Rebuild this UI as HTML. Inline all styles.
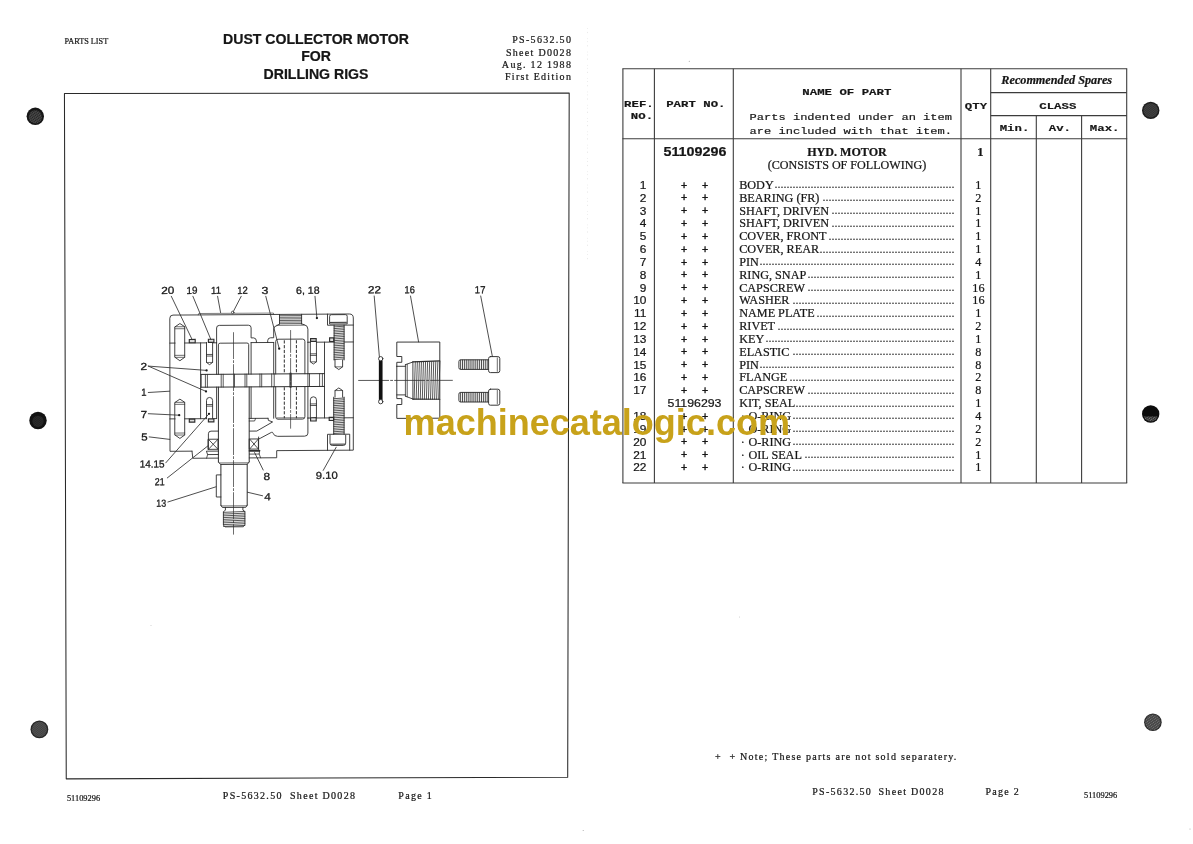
<!DOCTYPE html>
<html lang="en">
<head>
<meta charset="utf-8">
<title>Dust Collector Motor for Drilling Rigs - Parts List PS-5632.50</title>
<style>
html,body{margin:0;padding:0;background:#fff;}
body{width:1193px;height:844px;overflow:hidden;font-family:'Liberation Serif',serif;}
svg{display:block;position:absolute;left:0;top:0;}
text{white-space:pre;}
.ink text{stroke:#161616;stroke-width:.22px;stroke-linejoin:round;}
.ink text.lab{stroke-width:.3px;}
.ink text.ld{stroke:#2a2a2a;stroke-width:.2px;}
</style>
</head>
<body>
<svg width="1193" height="844" viewBox="0 0 1193 844" role="img" aria-label="Parts list PS-5632.50, sheet D0028: dust collector motor for drilling rigs">
<rect width="100%" height="100%" fill="#fff"/>
<defs><filter id="scan" x="0" y="0" width="100%" height="100%" filterUnits="userSpaceOnUse" color-interpolation-filters="sRGB"><feGaussianBlur stdDeviation="0.25"/></filter></defs>
<g filter="url(#scan)" class="ink">
<defs><pattern id="ht" width="1.9" height="1.5" patternUnits="userSpaceOnUse" patternTransform="rotate(24)"><rect x="0.2" y="0.25" width="1.15" height="0.7" fill="#fff"/></pattern><pattern id="ht2" width="1.6" height="1.6" patternUnits="userSpaceOnUse" patternTransform="rotate(-38)"><circle cx="0.8" cy="0.8" r="0.5" fill="#fff"/></pattern></defs>
<circle cx="35.3" cy="116.3" r="8.7" fill="#161616"/>
<circle cx="35.3" cy="116.89999999999999" r="6.6" fill="url(#ht)" opacity="0.55"/>
<circle cx="38.0" cy="420.5" r="8.7" fill="#121212"/>
<circle cx="38.0" cy="421.3" r="5.6" fill="url(#ht2)" opacity="0.32"/>
<circle cx="39.4" cy="729.4" r="8.9" fill="#262626"/>
<circle cx="39.4" cy="729.4" r="7.6" fill="url(#ht2)" opacity="0.62"/>
<circle cx="1150.7" cy="110.4" r="8.7" fill="#1c1c1c"/>
<circle cx="1150.7" cy="110.4" r="7.2" fill="url(#ht2)" opacity="0.5"/>
<circle cx="1150.7" cy="414.0" r="8.7" fill="#0c0c0c"/>
<circle cx="1152.9" cy="722.3" r="8.8" fill="#2a2a2a"/>
<circle cx="1152.9" cy="722.3" r="7.7" fill="url(#ht)" opacity="0.68"/>
<clipPath id="h5"><rect x="1141" y="416.6" width="20" height="8"/></clipPath>
<circle cx="1150.7" cy="414.0" r="7.4" fill="url(#ht)" opacity="0.9" clip-path="url(#h5)"/>
<circle cx="689.3" cy="61.2" r="0.55" fill="#9a9a9a"/>
<circle cx="583.2" cy="830.4" r="0.5" fill="#9a9a9a"/>
<circle cx="1190.0" cy="829.0" r="0.5" fill="#9a9a9a"/>
<circle cx="151.0" cy="625.5" r="0.4" fill="#9a9a9a"/>
<circle cx="739.5" cy="617.0" r="0.4" fill="#9a9a9a"/>
<line x1="587.4" y1="28" x2="587.6" y2="262" stroke="#c8c8c8" stroke-width="0.6" stroke-dasharray="0.8 3.1 1.2 5.3 0.7 2.2" opacity="0.7"/>
<text font-family="'Liberation Serif', serif" font-size="8.6" fill="#161616" transform="translate(64.40 43.90) scale(0.96 1.0)" xml:space="preserve">PARTS LIST</text>
<text font-family="'Liberation Sans', sans-serif" font-size="14.1" font-weight="bold" text-anchor="middle" fill="#161616" x="316.00" y="44.40" xml:space="preserve">DUST COLLECTOR MOTOR</text>
<text font-family="'Liberation Sans', sans-serif" font-size="14.1" font-weight="bold" text-anchor="middle" fill="#161616" x="316.00" y="61.00" xml:space="preserve">FOR</text>
<text font-family="'Liberation Sans', sans-serif" font-size="14.1" font-weight="bold" text-anchor="middle" fill="#161616" x="316.00" y="79.10" xml:space="preserve">DRILLING RIGS</text>
<text font-family="'Liberation Serif', serif" font-size="10" text-anchor="end" letter-spacing="1.3" fill="#161616" x="572.20" y="43.40" xml:space="preserve">PS-5632.50</text>
<text font-family="'Liberation Serif', serif" font-size="10" text-anchor="end" letter-spacing="1.3" fill="#161616" x="572.20" y="55.70" xml:space="preserve">Sheet D0028</text>
<text font-family="'Liberation Serif', serif" font-size="10" text-anchor="end" letter-spacing="1.3" fill="#161616" x="572.20" y="68.00" xml:space="preserve">Aug. 12 1988</text>
<text font-family="'Liberation Serif', serif" font-size="10" text-anchor="end" letter-spacing="1.3" fill="#161616" x="572.20" y="80.30" xml:space="preserve">First Edition</text>
<polygon points="64.45,93.5 569.2,92.9 567.7,777.3 66.25,778.85" fill="none" stroke="#2a2a2a" stroke-width="1.05" stroke-linejoin="round"/>
<text font-family="'Liberation Serif', serif" font-size="8.4" fill="#161616" x="66.90" y="800.70" xml:space="preserve">51109296</text>
<text font-family="'Liberation Serif', serif" font-size="10" letter-spacing="1.3" fill="#161616" x="222.80" y="798.60" xml:space="preserve">PS-5632.50</text>
<text font-family="'Liberation Serif', serif" font-size="10" letter-spacing="1.3" fill="#161616" x="290.00" y="798.60" xml:space="preserve">Sheet D0028</text>
<text font-family="'Liberation Serif', serif" font-size="10" letter-spacing="1.3" fill="#161616" x="398.30" y="798.60" xml:space="preserve">Page 1</text>
<g id="drawing" stroke-linecap="round" stroke-linejoin="round">
<path d="M192.00,451.16 L170.00,451.30 L169.80,318.30 Q169.80,315.10 173.00,315.08 L349.30,313.99 Q353.30,313.96 353.30,317.96 L353.30,450.16 L276.70,450.64 L276.70,457.74 L249.30,457.91" fill="none" stroke="#2e2e2e" stroke-width="0.9" />
<path d="M192.00,451.16 L192.80,458.26 L218.40,458.10" fill="none" stroke="#2e2e2e" stroke-width="0.9" />
<path d="M198.30,314.92 L198.70,313.52 L273.40,313.06 L273.80,314.46" fill="none" stroke="#2e2e2e" stroke-width="0.6" />
<circle cx="232.7" cy="312.41" r="1.25" fill="#fff" stroke="#2e2e2e" stroke-width="0.8"/>
<line x1="169.80" y1="343.10" x2="175.10" y2="343.07" stroke="#2e2e2e" stroke-width="0.9" />
<line x1="184.70" y1="343.01" x2="206.50" y2="342.87" stroke="#2e2e2e" stroke-width="0.9" />
<line x1="212.60" y1="342.84" x2="216.60" y2="342.81" stroke="#2e2e2e" stroke-width="0.9" />
<line x1="307.90" y1="342.25" x2="310.40" y2="342.23" stroke="#2e2e2e" stroke-width="0.9" />
<line x1="316.40" y1="342.19" x2="334.00" y2="342.08" stroke="#2e2e2e" stroke-width="0.9" />
<line x1="344.20" y1="342.02" x2="353.30" y2="341.96" stroke="#2e2e2e" stroke-width="0.9" />
<line x1="169.80" y1="418.90" x2="175.10" y2="418.87" stroke="#2e2e2e" stroke-width="0.9" />
<line x1="184.70" y1="418.81" x2="206.50" y2="418.67" stroke="#2e2e2e" stroke-width="0.9" />
<line x1="212.60" y1="418.64" x2="216.60" y2="418.61" stroke="#2e2e2e" stroke-width="0.9" />
<line x1="307.90" y1="418.05" x2="310.40" y2="418.03" stroke="#2e2e2e" stroke-width="0.9" />
<line x1="316.40" y1="417.99" x2="334.00" y2="417.88" stroke="#2e2e2e" stroke-width="0.9" />
<line x1="344.20" y1="417.82" x2="353.30" y2="417.76" stroke="#2e2e2e" stroke-width="0.9" />
<line x1="251.10" y1="342.60" x2="273.70" y2="342.46" stroke="#2e2e2e" stroke-width="0.9" />
<line x1="249.10" y1="418.41" x2="268.00" y2="418.29" stroke="#2e2e2e" stroke-width="0.9" />
<path d="M175.10,326.77 L179.90,323.54 L184.70,326.71 L184.70,357.31 L179.90,360.74 L175.10,357.37 Z" fill="none" stroke="#2e2e2e" stroke-width="0.9" />
<line x1="175.10" y1="326.77" x2="184.70" y2="326.71" stroke="#2e2e2e" stroke-width="0.7" />
<line x1="175.10" y1="328.77" x2="184.70" y2="328.71" stroke="#2e2e2e" stroke-width="0.7" />
<line x1="175.10" y1="357.37" x2="184.70" y2="357.31" stroke="#2e2e2e" stroke-width="0.7" />
<line x1="175.10" y1="355.37" x2="184.70" y2="355.31" stroke="#2e2e2e" stroke-width="0.7" />
<path d="M175.10,402.37 L179.90,399.14 L184.70,402.31 L184.70,435.01 L179.90,438.44 L175.10,435.07 Z" fill="none" stroke="#2e2e2e" stroke-width="0.9" />
<line x1="175.10" y1="402.37" x2="184.70" y2="402.31" stroke="#2e2e2e" stroke-width="0.7" />
<line x1="175.10" y1="404.37" x2="184.70" y2="404.31" stroke="#2e2e2e" stroke-width="0.7" />
<line x1="175.10" y1="435.07" x2="184.70" y2="435.01" stroke="#2e2e2e" stroke-width="0.7" />
<line x1="175.10" y1="433.07" x2="184.70" y2="433.01" stroke="#2e2e2e" stroke-width="0.7" />
<line x1="200.60" y1="342.91" x2="200.60" y2="418.71" stroke="#2e2e2e" stroke-width="0.9" />
<line x1="324.50" y1="342.14" x2="324.50" y2="417.94" stroke="#2e2e2e" stroke-width="0.9" />
<line x1="201.00" y1="374.41" x2="324.50" y2="373.64" stroke="#2e2e2e" stroke-width="1.0" />
<line x1="201.00" y1="387.21" x2="324.50" y2="386.44" stroke="#2e2e2e" stroke-width="1.0" />
<line x1="201.20" y1="374.41" x2="201.20" y2="387.21" stroke="#2e2e2e" stroke-width="0.8" />
<line x1="205.40" y1="374.38" x2="205.40" y2="387.18" stroke="#2e2e2e" stroke-width="0.8" />
<line x1="207.40" y1="374.37" x2="207.40" y2="387.17" stroke="#2e2e2e" stroke-width="0.8" />
<line x1="221.20" y1="374.28" x2="221.20" y2="387.08" stroke="#2e2e2e" stroke-width="0.8" />
<line x1="223.20" y1="374.27" x2="223.20" y2="387.07" stroke="#2e2e2e" stroke-width="0.8" />
<line x1="245.00" y1="374.14" x2="245.00" y2="386.94" stroke="#2e2e2e" stroke-width="0.8" />
<line x1="246.80" y1="374.12" x2="246.80" y2="386.92" stroke="#2e2e2e" stroke-width="0.8" />
<line x1="259.90" y1="374.04" x2="259.90" y2="386.84" stroke="#2e2e2e" stroke-width="0.8" />
<line x1="261.70" y1="374.03" x2="261.70" y2="386.83" stroke="#2e2e2e" stroke-width="0.8" />
<line x1="271.70" y1="373.97" x2="271.70" y2="386.77" stroke="#2e2e2e" stroke-width="0.8" />
<line x1="274.20" y1="373.95" x2="274.20" y2="386.75" stroke="#2e2e2e" stroke-width="0.8" />
<line x1="307.90" y1="373.75" x2="307.90" y2="386.55" stroke="#2e2e2e" stroke-width="0.8" />
<line x1="309.50" y1="373.74" x2="309.50" y2="386.54" stroke="#2e2e2e" stroke-width="0.8" />
<line x1="319.60" y1="373.67" x2="319.60" y2="386.47" stroke="#2e2e2e" stroke-width="0.8" />
<line x1="322.40" y1="373.66" x2="322.40" y2="386.46" stroke="#2e2e2e" stroke-width="0.8" />
<line x1="290.60" y1="373.85" x2="290.60" y2="386.65" stroke="#2e2e2e" stroke-width="2.6" stroke-opacity="0.75"/>
<line x1="234.50" y1="374.20" x2="234.50" y2="387.00" stroke="#2e2e2e" stroke-width="0.8" />
<path d="M206.50,342.47 L206.50,362.47 L209.55,364.65 L212.60,362.44 L212.60,342.44" fill="none" stroke="#2e2e2e" stroke-width="0.9" />
<line x1="206.50" y1="362.47" x2="212.60" y2="362.44" stroke="#2e2e2e" stroke-width="0.7" />
<line x1="206.50" y1="356.07" x2="212.60" y2="356.04" stroke="#2e2e2e" stroke-width="0.8" />
<line x1="206.50" y1="354.47" x2="212.60" y2="354.44" stroke="#2e2e2e" stroke-width="0.8" />
<path d="M310.35,341.83 L310.35,361.83 L313.40,364.01 L316.45,361.79 L316.45,341.79" fill="none" stroke="#2e2e2e" stroke-width="0.9" />
<line x1="310.35" y1="361.83" x2="316.45" y2="361.79" stroke="#2e2e2e" stroke-width="0.7" />
<line x1="310.35" y1="355.43" x2="316.45" y2="355.39" stroke="#2e2e2e" stroke-width="0.8" />
<line x1="310.35" y1="353.83" x2="316.45" y2="353.79" stroke="#2e2e2e" stroke-width="0.8" />
<path d="M206.50,418.67 L206.50,400.47 Q206.50,397.47 209.55,397.45 Q212.60,397.44 212.60,400.44 L212.60,418.64" fill="none" stroke="#2e2e2e" stroke-width="0.9" />
<line x1="206.50" y1="404.57" x2="212.60" y2="404.54" stroke="#2e2e2e" stroke-width="0.8" />
<line x1="206.50" y1="406.17" x2="212.60" y2="406.14" stroke="#2e2e2e" stroke-width="0.8" />
<path d="M310.35,418.03 L310.35,399.83 Q310.35,396.83 313.40,396.81 Q316.45,396.79 316.45,399.79 L316.45,417.99" fill="none" stroke="#2e2e2e" stroke-width="0.9" />
<line x1="310.35" y1="403.93" x2="316.45" y2="403.89" stroke="#2e2e2e" stroke-width="0.8" />
<line x1="310.35" y1="405.53" x2="316.45" y2="405.49" stroke="#2e2e2e" stroke-width="0.8" />
<path d="M189.30,339.48 L195.20,339.44 L195.20,342.74 L189.30,342.78 Z" fill="#ddd" stroke="#2e2e2e" stroke-width="1.15" stroke-linejoin="miter"/>
<path d="M208.40,339.26 L213.90,339.23 L213.90,342.33 L208.40,342.36 Z" fill="#ddd" stroke="#2e2e2e" stroke-width="1.15" stroke-linejoin="miter"/>
<path d="M310.60,338.63 L316.20,338.59 L316.20,341.39 L310.60,341.43 Z" fill="#ddd" stroke="#2e2e2e" stroke-width="1.15" stroke-linejoin="miter"/>
<path d="M329.60,337.91 L333.80,337.88 L333.80,341.48 L329.60,341.51 Z" fill="#ddd" stroke="#2e2e2e" stroke-width="1.15" stroke-linejoin="miter"/>
<path d="M189.30,419.18 L194.80,419.15 L194.80,422.15 L189.30,422.18 Z" fill="#ddd" stroke="#2e2e2e" stroke-width="1.15" stroke-linejoin="miter"/>
<path d="M208.40,418.86 L213.90,418.83 L213.90,421.83 L208.40,421.86 Z" fill="#ddd" stroke="#2e2e2e" stroke-width="1.15" stroke-linejoin="miter"/>
<path d="M310.60,417.73 L316.20,417.69 L316.20,420.99 L310.60,421.03 Z" fill="#ddd" stroke="#2e2e2e" stroke-width="1.15" stroke-linejoin="miter"/>
<path d="M329.20,417.31 L333.60,417.29 L333.60,420.49 L329.20,420.51 Z" fill="#ddd" stroke="#2e2e2e" stroke-width="1.15" stroke-linejoin="miter"/>
<path d="M216.60,342.81 L216.60,328.01 Q216.60,325.41 219.30,325.39 L248.40,325.21 Q251.10,325.20 251.10,327.80 L251.10,337.90 L253.60,337.88 Q256.20,338.07 256.40,340.86 L256.40,342.56" fill="none" stroke="#2e2e2e" stroke-width="0.9" />
<line x1="216.60" y1="342.81" x2="216.60" y2="374.31" stroke="#2e2e2e" stroke-width="0.9" />
<line x1="251.10" y1="342.60" x2="251.10" y2="374.10" stroke="#2e2e2e" stroke-width="0.9" />
<path d="M218.40,374.30 L218.40,344.80 Q218.40,343.20 220.20,343.19 L246.90,343.02 Q248.70,343.01 248.70,344.61 L248.70,374.11" fill="none" stroke="#2e2e2e" stroke-width="0.9" />
<line x1="216.60" y1="387.11" x2="216.60" y2="418.61" stroke="#2e2e2e" stroke-width="0.9" />
<line x1="251.10" y1="386.90" x2="251.10" y2="418.40" stroke="#2e2e2e" stroke-width="0.9" />
<line x1="218.40" y1="387.10" x2="218.40" y2="462.10" stroke="#2e2e2e" stroke-width="1.0" />
<line x1="249.20" y1="386.91" x2="249.20" y2="461.91" stroke="#2e2e2e" stroke-width="1.0" />
<path d="M218.40,462.10 L220.80,464.49 L247.20,464.32 L249.20,461.91" fill="none" stroke="#2e2e2e" stroke-width="0.9" />
<line x1="219.40" y1="462.99" x2="248.20" y2="462.82" stroke="#2e2e2e" stroke-width="0.7" />
<line x1="220.90" y1="464.48" x2="220.90" y2="505.28" stroke="#2e2e2e" stroke-width="1.0" />
<line x1="247.20" y1="464.32" x2="247.20" y2="505.12" stroke="#2e2e2e" stroke-width="1.0" />
<path d="M220.90,505.28 L222.40,507.48 L245.80,507.33 L247.20,505.12" fill="none" stroke="#2e2e2e" stroke-width="0.9" />
<line x1="221.40" y1="505.98" x2="246.80" y2="505.82" stroke="#2e2e2e" stroke-width="0.7" />
<path d="M225.40,507.46 L225.40,510.26 L223.40,511.67 L223.40,525.07 L225.00,526.86 L243.30,526.75 L244.90,524.94 L244.90,511.54 L242.90,510.15 L242.90,507.35" fill="none" stroke="#2e2e2e" stroke-width="0.9" />
<line x1="223.40" y1="512.37" x2="244.90" y2="511.44" stroke="#2e2e2e" stroke-width="0.8" />
<line x1="223.40" y1="514.12" x2="244.90" y2="513.19" stroke="#2e2e2e" stroke-width="0.8" />
<line x1="223.40" y1="515.87" x2="244.90" y2="514.94" stroke="#2e2e2e" stroke-width="0.8" />
<line x1="223.40" y1="517.62" x2="244.90" y2="516.69" stroke="#2e2e2e" stroke-width="0.8" />
<line x1="223.40" y1="519.37" x2="244.90" y2="518.44" stroke="#2e2e2e" stroke-width="0.8" />
<line x1="223.40" y1="521.12" x2="244.90" y2="520.19" stroke="#2e2e2e" stroke-width="0.8" />
<line x1="223.40" y1="522.87" x2="244.90" y2="521.94" stroke="#2e2e2e" stroke-width="0.8" />
<line x1="223.40" y1="524.62" x2="244.90" y2="523.69" stroke="#2e2e2e" stroke-width="0.8" />
<line x1="223.40" y1="526.37" x2="244.90" y2="525.44" stroke="#2e2e2e" stroke-width="0.8" />
<line x1="233.50" y1="332.61" x2="233.50" y2="534.21" stroke="#2e2e2e" stroke-width="0.7" stroke-dasharray="26 2 2 2"/>
<path d="M220.90,474.88 L216.30,474.91 L216.30,497.01 L220.90,496.98" fill="none" stroke="#2e2e2e" stroke-width="0.9" />
<line x1="279.50" y1="314.42" x2="279.50" y2="324.02" stroke="#2e2e2e" stroke-width="0.9" />
<line x1="301.60" y1="314.28" x2="301.60" y2="323.88" stroke="#2e2e2e" stroke-width="0.9" />
<line x1="279.50" y1="315.72" x2="301.60" y2="315.58" stroke="#2e2e2e" stroke-width="0.75" />
<line x1="279.50" y1="317.32" x2="301.60" y2="317.18" stroke="#2e2e2e" stroke-width="0.75" />
<line x1="279.50" y1="318.92" x2="301.60" y2="318.78" stroke="#2e2e2e" stroke-width="0.75" />
<line x1="279.50" y1="320.52" x2="301.60" y2="320.38" stroke="#2e2e2e" stroke-width="0.75" />
<line x1="279.50" y1="322.12" x2="301.60" y2="321.98" stroke="#2e2e2e" stroke-width="0.75" />
<line x1="279.50" y1="323.72" x2="301.60" y2="323.58" stroke="#2e2e2e" stroke-width="0.75" />
<path d="M267.70,342.49 L267.70,340.59 Q267.90,337.79 270.60,337.78 L273.70,337.76 L273.70,328.96 Q273.90,326.16 276.60,325.74 L279.50,324.02" fill="none" stroke="#2e2e2e" stroke-width="0.9" />
<path d="M301.60,323.88 L304.40,324.77 Q307.90,325.55 307.90,329.15 L307.90,342.25" fill="none" stroke="#2e2e2e" stroke-width="0.9" />
<line x1="276.60" y1="325.34" x2="304.40" y2="325.17" stroke="#2e2e2e" stroke-width="0.7" />
<path d="M275.70,373.94 L275.70,341.54 Q275.70,339.24 278.00,339.23 L302.60,339.08 Q304.90,339.06 304.90,341.36 L304.90,373.76" fill="none" stroke="#2e2e2e" stroke-width="0.9" />
<path d="M275.70,386.74 L275.70,416.94 Q275.70,419.24 278.00,419.23 L302.60,419.08 Q304.90,419.06 304.90,416.76 L304.90,386.56" fill="none" stroke="#2e2e2e" stroke-width="0.9" />
<line x1="277.00" y1="417.94" x2="303.60" y2="417.77" stroke="#2e2e2e" stroke-width="0.7" />
<line x1="273.70" y1="342.46" x2="273.70" y2="373.96" stroke="#2e2e2e" stroke-width="0.9" />
<line x1="307.90" y1="342.25" x2="307.90" y2="373.75" stroke="#2e2e2e" stroke-width="0.9" />
<line x1="273.70" y1="386.76" x2="273.70" y2="418.26" stroke="#2e2e2e" stroke-width="0.9" />
<line x1="307.90" y1="386.55" x2="307.90" y2="418.05" stroke="#2e2e2e" stroke-width="0.9" />
<line x1="284.30" y1="340.29" x2="284.30" y2="373.39" stroke="#2e2e2e" stroke-width="1.0" stroke-dasharray="3.2 1.6" stroke-linecap="butt"/>
<line x1="284.30" y1="387.19" x2="284.30" y2="418.29" stroke="#2e2e2e" stroke-width="1.0" stroke-dasharray="3.2 1.6" stroke-linecap="butt"/>
<line x1="296.40" y1="340.22" x2="296.40" y2="373.32" stroke="#2e2e2e" stroke-width="1.0" stroke-dasharray="3.2 1.6" stroke-linecap="butt"/>
<line x1="296.40" y1="387.12" x2="296.40" y2="418.22" stroke="#2e2e2e" stroke-width="1.0" stroke-dasharray="3.2 1.6" stroke-linecap="butt"/>
<line x1="290.60" y1="330.45" x2="290.60" y2="428.25" stroke="#2e2e2e" stroke-width="0.7" stroke-dasharray="22 2 2 2"/>
<path d="M307.90,418.05 L307.90,433.15 Q307.90,436.15 304.60,436.17 L277.60,436.33 Q274.00,436.16 273.20,433.36 Q272.60,431.76 271.40,432.37 L260.20,438.34 L258.60,439.05" fill="none" stroke="#2e2e2e" stroke-width="0.9" />
<path d="M268.00,418.29 L268.40,420.39 L272.60,421.96 L256.80,431.06 L249.60,431.11" fill="none" stroke="#2e2e2e" stroke-width="0.9" />
<path d="M249.20,421.01 L254.60,420.98 L255.60,418.37" fill="none" stroke="#2e2e2e" stroke-width="0.8" />
<path d="M218.40,431.10 L211.00,431.15 Q208.40,431.16 208.40,433.76 L208.40,449.36" fill="none" stroke="#2e2e2e" stroke-width="0.9" />
<path d="M208.40,439.26 L218.00,439.20 L218.00,449.30 L208.40,449.36 Z" fill="none" stroke="#2e2e2e" stroke-width="0.9" />
<path d="M208.40,439.26 L218.00,449.30" fill="none" stroke="#2e2e2e" stroke-width="0.85" />
<path d="M218.00,439.20 L208.40,449.36" fill="none" stroke="#2e2e2e" stroke-width="0.85" />
<path d="M218.40,451.10 L206.40,451.17 L207.60,454.57 L218.40,454.50" fill="none" stroke="#2e2e2e" stroke-width="0.9" />
<path d="M207.60,454.57 L206.60,458.17" fill="none" stroke="#2e2e2e" stroke-width="0.8" />
<path d="M249.60,439.01 L258.40,438.95 L258.40,449.05 L249.60,449.11 Z" fill="none" stroke="#2e2e2e" stroke-width="0.9" />
<path d="M249.60,439.01 L258.40,449.05" fill="none" stroke="#2e2e2e" stroke-width="0.85" />
<path d="M258.40,438.95 L249.60,449.11" fill="none" stroke="#2e2e2e" stroke-width="0.85" />
<path d="M258.60,437.05 L258.60,450.65" fill="none" stroke="#2e2e2e" stroke-width="0.9" />
<line x1="249.40" y1="450.91" x2="259.60" y2="450.84" stroke="#2e2e2e" stroke-width="1.6" />
<path d="M259.60,450.84 L259.20,454.05 L249.40,454.11" fill="none" stroke="#2e2e2e" stroke-width="0.8" />
<path d="M259.20,454.05 L260.60,457.84" fill="none" stroke="#2e2e2e" stroke-width="0.8" />
<path d="M327.50,314.12 L327.50,325.22 L353.30,325.06" fill="none" stroke="#2e2e2e" stroke-width="0.9" />
<path d="M329.60,323.61 L329.60,316.41 Q329.60,314.71 331.40,314.70 L345.40,314.61 Q347.20,314.60 347.20,316.30 L347.20,323.50 Z" fill="none" stroke="#2e2e2e" stroke-width="0.9" />
<line x1="330.40" y1="322.41" x2="346.40" y2="322.31" stroke="#2e2e2e" stroke-width="1.0" />
<line x1="334.10" y1="325.18" x2="334.10" y2="359.98" stroke="#2e2e2e" stroke-width="0.9" />
<line x1="344.10" y1="325.12" x2="344.10" y2="359.92" stroke="#2e2e2e" stroke-width="0.9" />
<line x1="334.10" y1="326.88" x2="344.10" y2="326.22" stroke="#2e2e2e" stroke-width="0.8" />
<line x1="334.10" y1="328.60" x2="344.10" y2="327.94" stroke="#2e2e2e" stroke-width="0.8" />
<line x1="334.10" y1="330.32" x2="344.10" y2="329.66" stroke="#2e2e2e" stroke-width="0.8" />
<line x1="334.10" y1="332.04" x2="344.10" y2="331.38" stroke="#2e2e2e" stroke-width="0.8" />
<line x1="334.10" y1="333.76" x2="344.10" y2="333.10" stroke="#2e2e2e" stroke-width="0.8" />
<line x1="334.10" y1="335.48" x2="344.10" y2="334.82" stroke="#2e2e2e" stroke-width="0.8" />
<line x1="334.10" y1="337.20" x2="344.10" y2="336.54" stroke="#2e2e2e" stroke-width="0.8" />
<line x1="334.10" y1="338.92" x2="344.10" y2="338.26" stroke="#2e2e2e" stroke-width="0.8" />
<line x1="334.10" y1="340.64" x2="344.10" y2="339.98" stroke="#2e2e2e" stroke-width="0.8" />
<line x1="334.10" y1="342.36" x2="344.10" y2="341.70" stroke="#2e2e2e" stroke-width="0.8" />
<line x1="334.10" y1="344.08" x2="344.10" y2="343.42" stroke="#2e2e2e" stroke-width="0.8" />
<line x1="334.10" y1="345.80" x2="344.10" y2="345.14" stroke="#2e2e2e" stroke-width="0.8" />
<line x1="334.10" y1="347.52" x2="344.10" y2="346.86" stroke="#2e2e2e" stroke-width="0.8" />
<line x1="334.10" y1="349.24" x2="344.10" y2="348.58" stroke="#2e2e2e" stroke-width="0.8" />
<line x1="334.10" y1="350.96" x2="344.10" y2="350.30" stroke="#2e2e2e" stroke-width="0.8" />
<line x1="334.10" y1="352.68" x2="344.10" y2="352.02" stroke="#2e2e2e" stroke-width="0.8" />
<line x1="334.10" y1="354.40" x2="344.10" y2="353.74" stroke="#2e2e2e" stroke-width="0.8" />
<line x1="334.10" y1="356.12" x2="344.10" y2="355.46" stroke="#2e2e2e" stroke-width="0.8" />
<line x1="334.10" y1="357.84" x2="344.10" y2="357.18" stroke="#2e2e2e" stroke-width="0.8" />
<line x1="334.10" y1="359.56" x2="344.10" y2="358.90" stroke="#2e2e2e" stroke-width="0.8" />
<path d="M335.00,359.98 L335.00,366.88 L338.80,369.55 L342.60,366.83 L342.60,359.93" fill="none" stroke="#2e2e2e" stroke-width="0.9" />
<line x1="335.00" y1="366.88" x2="342.60" y2="366.83" stroke="#2e2e2e" stroke-width="0.7" />
<path d="M335.00,397.18 L335.00,390.58 L338.80,387.95 L342.60,390.53 L342.60,397.13" fill="none" stroke="#2e2e2e" stroke-width="0.9" />
<line x1="335.00" y1="390.58" x2="342.60" y2="390.53" stroke="#2e2e2e" stroke-width="0.7" />
<line x1="333.70" y1="397.19" x2="333.70" y2="434.39" stroke="#2e2e2e" stroke-width="0.9" />
<line x1="344.10" y1="397.12" x2="344.10" y2="434.32" stroke="#2e2e2e" stroke-width="0.9" />
<line x1="333.70" y1="398.69" x2="344.10" y2="398.02" stroke="#2e2e2e" stroke-width="0.8" />
<line x1="333.70" y1="400.43" x2="344.10" y2="399.76" stroke="#2e2e2e" stroke-width="0.8" />
<line x1="333.70" y1="402.17" x2="344.10" y2="401.50" stroke="#2e2e2e" stroke-width="0.8" />
<line x1="333.70" y1="403.91" x2="344.10" y2="403.24" stroke="#2e2e2e" stroke-width="0.8" />
<line x1="333.70" y1="405.65" x2="344.10" y2="404.98" stroke="#2e2e2e" stroke-width="0.8" />
<line x1="333.70" y1="407.39" x2="344.10" y2="406.72" stroke="#2e2e2e" stroke-width="0.8" />
<line x1="333.70" y1="409.13" x2="344.10" y2="408.46" stroke="#2e2e2e" stroke-width="0.8" />
<line x1="333.70" y1="410.87" x2="344.10" y2="410.20" stroke="#2e2e2e" stroke-width="0.8" />
<line x1="333.70" y1="412.61" x2="344.10" y2="411.94" stroke="#2e2e2e" stroke-width="0.8" />
<line x1="333.70" y1="414.35" x2="344.10" y2="413.68" stroke="#2e2e2e" stroke-width="0.8" />
<line x1="333.70" y1="416.09" x2="344.10" y2="415.42" stroke="#2e2e2e" stroke-width="0.8" />
<line x1="333.70" y1="417.83" x2="344.10" y2="417.16" stroke="#2e2e2e" stroke-width="0.8" />
<line x1="333.70" y1="419.57" x2="344.10" y2="418.90" stroke="#2e2e2e" stroke-width="0.8" />
<line x1="333.70" y1="421.31" x2="344.10" y2="420.64" stroke="#2e2e2e" stroke-width="0.8" />
<line x1="333.70" y1="423.05" x2="344.10" y2="422.38" stroke="#2e2e2e" stroke-width="0.8" />
<line x1="333.70" y1="424.79" x2="344.10" y2="424.12" stroke="#2e2e2e" stroke-width="0.8" />
<line x1="333.70" y1="426.53" x2="344.10" y2="425.86" stroke="#2e2e2e" stroke-width="0.8" />
<line x1="333.70" y1="428.27" x2="344.10" y2="427.60" stroke="#2e2e2e" stroke-width="0.8" />
<line x1="333.70" y1="430.01" x2="344.10" y2="429.34" stroke="#2e2e2e" stroke-width="0.8" />
<line x1="333.70" y1="431.75" x2="344.10" y2="431.08" stroke="#2e2e2e" stroke-width="0.8" />
<line x1="333.70" y1="433.49" x2="344.10" y2="432.82" stroke="#2e2e2e" stroke-width="0.8" />
<path d="M327.50,450.32 L327.50,434.32 L349.70,434.19 L349.70,450.19" fill="none" stroke="#2e2e2e" stroke-width="0.9" />
<path d="M330.00,435.21 L330.00,443.21 Q330.00,445.51 332.30,445.49 L343.40,445.42 Q345.70,445.41 345.70,443.11 L345.70,435.11" fill="none" stroke="#2e2e2e" stroke-width="0.9" />
<line x1="331.00" y1="444.20" x2="344.80" y2="444.12" stroke="#2e2e2e" stroke-width="1.0" />
<line x1="358.60" y1="380.45" x2="452.40" y2="380.35" stroke="#222" stroke-width="0.75" stroke-dasharray="30 2 2 2"/>
<rect x="378.85" y="360.4" width="3.7" height="40.2" fill="#111"/>
<circle cx="380.7" cy="358.7" r="2.15" fill="#fff" stroke="#2e2e2e" stroke-width="0.9"/>
<circle cx="380.7" cy="401.7" r="2.15" fill="#fff" stroke="#2e2e2e" stroke-width="0.9"/>
<path d="M396.8,366.3 L396.8,362.3 L401.8,362.3 L401.8,356.5 L396.8,356.5 L396.8,342.1 L439.8,342.0 L439.8,418.2 L396.8,418.4 L396.8,404.5 L401.8,404.5 L401.8,398.6 L396.8,398.6 L396.8,366.3" fill="none" stroke="#2e2e2e" stroke-width="0.95" />
<path d="M396.8,366.3 L405.4,366.3 M396.8,394.9 L405.4,394.9" fill="none" stroke="#2e2e2e" stroke-width="0.9" />
<path d="M405.4,364.7 L405.4,396.2 M407.2,364.2 L407.2,396.8" fill="none" stroke="#2e2e2e" stroke-width="0.8" />
<path d="M405.4,364.7 L412.9,362.0 M405.4,396.2 L412.9,399.0" fill="none" stroke="#2e2e2e" stroke-width="0.9" />
<path d="M412.9,361.8 L412.9,399.2" fill="none" stroke="#2e2e2e" stroke-width="0.9" />
<path d="M412.9,361.9 L439.8,360.9 M412.9,399.1 L439.8,399.3" fill="none" stroke="#2e2e2e" stroke-width="1.1" />
<line x1="415.30" y1="361.60" x2="414.10" y2="399.20" stroke="#2e2e2e" stroke-width="0.95" stroke-opacity="0.85"/>
<line x1="417.35" y1="361.60" x2="416.15" y2="399.20" stroke="#2e2e2e" stroke-width="0.95" stroke-opacity="0.85"/>
<line x1="419.40" y1="361.60" x2="418.20" y2="399.20" stroke="#2e2e2e" stroke-width="0.95" stroke-opacity="0.85"/>
<line x1="421.45" y1="361.60" x2="420.25" y2="399.20" stroke="#2e2e2e" stroke-width="0.95" stroke-opacity="0.85"/>
<line x1="423.50" y1="361.60" x2="422.30" y2="399.20" stroke="#2e2e2e" stroke-width="0.95" stroke-opacity="0.85"/>
<line x1="425.55" y1="361.60" x2="424.35" y2="399.20" stroke="#2e2e2e" stroke-width="0.95" stroke-opacity="0.85"/>
<line x1="427.60" y1="361.60" x2="426.40" y2="399.20" stroke="#2e2e2e" stroke-width="0.95" stroke-opacity="0.85"/>
<line x1="429.65" y1="361.60" x2="428.45" y2="399.20" stroke="#2e2e2e" stroke-width="0.95" stroke-opacity="0.85"/>
<line x1="431.70" y1="361.60" x2="430.50" y2="399.20" stroke="#2e2e2e" stroke-width="0.95" stroke-opacity="0.85"/>
<line x1="433.75" y1="361.60" x2="432.55" y2="399.20" stroke="#2e2e2e" stroke-width="0.95" stroke-opacity="0.85"/>
<line x1="435.80" y1="361.60" x2="434.60" y2="399.20" stroke="#2e2e2e" stroke-width="0.95" stroke-opacity="0.85"/>
<line x1="437.85" y1="361.60" x2="436.65" y2="399.20" stroke="#2e2e2e" stroke-width="0.95" stroke-opacity="0.85"/>
<line x1="439.90" y1="361.60" x2="438.70" y2="399.20" stroke="#2e2e2e" stroke-width="0.95" stroke-opacity="0.85"/>
<path d="M489.0,359.8 L460.6,359.8 Q458.9,359.8 458.9,361.5 L458.9,367.70000000000005 Q458.9,369.40000000000003 460.6,369.40000000000003 L489.0,369.40000000000003" fill="none" stroke="#2e2e2e" stroke-width="0.95" />
<line x1="460.60" y1="360.10" x2="460.60" y2="369.10" stroke="#2e2e2e" stroke-width="1.0" stroke-opacity="0.85"/>
<line x1="462.50" y1="360.10" x2="462.50" y2="369.10" stroke="#2e2e2e" stroke-width="1.0" stroke-opacity="0.85"/>
<line x1="464.40" y1="360.10" x2="464.40" y2="369.10" stroke="#2e2e2e" stroke-width="1.0" stroke-opacity="0.85"/>
<line x1="466.30" y1="360.10" x2="466.30" y2="369.10" stroke="#2e2e2e" stroke-width="1.0" stroke-opacity="0.85"/>
<line x1="468.20" y1="360.10" x2="468.20" y2="369.10" stroke="#2e2e2e" stroke-width="1.0" stroke-opacity="0.85"/>
<line x1="470.10" y1="360.10" x2="470.10" y2="369.10" stroke="#2e2e2e" stroke-width="1.0" stroke-opacity="0.85"/>
<line x1="472.00" y1="360.10" x2="472.00" y2="369.10" stroke="#2e2e2e" stroke-width="1.0" stroke-opacity="0.85"/>
<line x1="473.90" y1="360.10" x2="473.90" y2="369.10" stroke="#2e2e2e" stroke-width="1.0" stroke-opacity="0.85"/>
<line x1="475.80" y1="360.10" x2="475.80" y2="369.10" stroke="#2e2e2e" stroke-width="1.0" stroke-opacity="0.85"/>
<line x1="477.70" y1="360.10" x2="477.70" y2="369.10" stroke="#2e2e2e" stroke-width="1.0" stroke-opacity="0.85"/>
<line x1="479.60" y1="360.10" x2="479.60" y2="369.10" stroke="#2e2e2e" stroke-width="1.0" stroke-opacity="0.85"/>
<line x1="481.50" y1="360.10" x2="481.50" y2="369.10" stroke="#2e2e2e" stroke-width="1.0" stroke-opacity="0.85"/>
<line x1="483.40" y1="360.10" x2="483.40" y2="369.10" stroke="#2e2e2e" stroke-width="1.0" stroke-opacity="0.85"/>
<line x1="485.30" y1="360.10" x2="485.30" y2="369.10" stroke="#2e2e2e" stroke-width="1.0" stroke-opacity="0.85"/>
<line x1="487.20" y1="360.10" x2="487.20" y2="369.10" stroke="#2e2e2e" stroke-width="1.0" stroke-opacity="0.85"/>
<path d="M490.4,356.6 L497.9,356.6 Q499.8,356.6 499.8,358.5 L499.8,370.70000000000005 Q499.8,372.6 497.9,372.6 L490.4,372.6 Q488.6,372.6 488.6,370.8 L488.6,358.40000000000003 Q488.6,356.6 490.4,356.6 Z" fill="#fff" stroke="#2e2e2e" stroke-width="0.95" />
<line x1="497.30" y1="357.80" x2="497.30" y2="371.40" stroke="#2e2e2e" stroke-width="0.7" />
<path d="M489.0,392.4 L460.6,392.4 Q458.9,392.4 458.9,394.09999999999997 L458.9,400.3 Q458.9,402.0 460.6,402.0 L489.0,402.0" fill="none" stroke="#2e2e2e" stroke-width="0.95" />
<line x1="460.60" y1="392.70" x2="460.60" y2="401.70" stroke="#2e2e2e" stroke-width="1.0" stroke-opacity="0.85"/>
<line x1="462.50" y1="392.70" x2="462.50" y2="401.70" stroke="#2e2e2e" stroke-width="1.0" stroke-opacity="0.85"/>
<line x1="464.40" y1="392.70" x2="464.40" y2="401.70" stroke="#2e2e2e" stroke-width="1.0" stroke-opacity="0.85"/>
<line x1="466.30" y1="392.70" x2="466.30" y2="401.70" stroke="#2e2e2e" stroke-width="1.0" stroke-opacity="0.85"/>
<line x1="468.20" y1="392.70" x2="468.20" y2="401.70" stroke="#2e2e2e" stroke-width="1.0" stroke-opacity="0.85"/>
<line x1="470.10" y1="392.70" x2="470.10" y2="401.70" stroke="#2e2e2e" stroke-width="1.0" stroke-opacity="0.85"/>
<line x1="472.00" y1="392.70" x2="472.00" y2="401.70" stroke="#2e2e2e" stroke-width="1.0" stroke-opacity="0.85"/>
<line x1="473.90" y1="392.70" x2="473.90" y2="401.70" stroke="#2e2e2e" stroke-width="1.0" stroke-opacity="0.85"/>
<line x1="475.80" y1="392.70" x2="475.80" y2="401.70" stroke="#2e2e2e" stroke-width="1.0" stroke-opacity="0.85"/>
<line x1="477.70" y1="392.70" x2="477.70" y2="401.70" stroke="#2e2e2e" stroke-width="1.0" stroke-opacity="0.85"/>
<line x1="479.60" y1="392.70" x2="479.60" y2="401.70" stroke="#2e2e2e" stroke-width="1.0" stroke-opacity="0.85"/>
<line x1="481.50" y1="392.70" x2="481.50" y2="401.70" stroke="#2e2e2e" stroke-width="1.0" stroke-opacity="0.85"/>
<line x1="483.40" y1="392.70" x2="483.40" y2="401.70" stroke="#2e2e2e" stroke-width="1.0" stroke-opacity="0.85"/>
<line x1="485.30" y1="392.70" x2="485.30" y2="401.70" stroke="#2e2e2e" stroke-width="1.0" stroke-opacity="0.85"/>
<line x1="487.20" y1="392.70" x2="487.20" y2="401.70" stroke="#2e2e2e" stroke-width="1.0" stroke-opacity="0.85"/>
<path d="M490.4,389.2 L497.9,389.2 Q499.8,389.2 499.8,391.09999999999997 L499.8,403.3 Q499.8,405.2 497.9,405.2 L490.4,405.2 Q488.6,405.2 488.6,403.4 L488.6,391.0 Q488.6,389.2 490.4,389.2 Z" fill="#fff" stroke="#2e2e2e" stroke-width="0.95" />
<line x1="497.30" y1="390.40" x2="497.30" y2="404.00" stroke="#2e2e2e" stroke-width="0.7" />
<line x1="171.30" y1="296.30" x2="192.20" y2="339.70" stroke="#2e2e2e" stroke-width="0.85" />
<line x1="192.90" y1="296.30" x2="210.90" y2="339.60" stroke="#2e2e2e" stroke-width="0.85" />
<line x1="217.60" y1="296.30" x2="220.60" y2="312.60" stroke="#2e2e2e" stroke-width="0.85" />
<line x1="241.20" y1="296.30" x2="233.50" y2="311.20" stroke="#2e2e2e" stroke-width="0.85" />
<line x1="265.80" y1="296.30" x2="279.20" y2="348.60" stroke="#2e2e2e" stroke-width="0.85" />
<line x1="315.00" y1="296.30" x2="316.90" y2="318.00" stroke="#2e2e2e" stroke-width="0.85" />
<line x1="374.20" y1="296.00" x2="379.40" y2="357.00" stroke="#2e2e2e" stroke-width="0.85" />
<line x1="410.50" y1="296.00" x2="418.60" y2="341.90" stroke="#2e2e2e" stroke-width="0.85" />
<line x1="480.70" y1="296.00" x2="492.40" y2="356.60" stroke="#2e2e2e" stroke-width="0.85" />
<line x1="148.30" y1="366.10" x2="206.60" y2="370.40" stroke="#2e2e2e" stroke-width="0.85" />
<line x1="148.30" y1="366.10" x2="206.00" y2="391.40" stroke="#2e2e2e" stroke-width="0.85" />
<line x1="148.30" y1="392.50" x2="169.60" y2="391.20" stroke="#2e2e2e" stroke-width="0.85" />
<line x1="148.30" y1="413.70" x2="179.20" y2="415.20" stroke="#2e2e2e" stroke-width="0.85" />
<line x1="149.20" y1="436.90" x2="169.80" y2="439.40" stroke="#2e2e2e" stroke-width="0.85" />
<line x1="165.80" y1="462.80" x2="209.00" y2="413.80" stroke="#2e2e2e" stroke-width="0.85" />
<line x1="167.30" y1="477.90" x2="208.00" y2="445.80" stroke="#2e2e2e" stroke-width="0.85" />
<line x1="167.90" y1="502.00" x2="216.00" y2="486.80" stroke="#2e2e2e" stroke-width="0.85" />
<line x1="247.40" y1="492.20" x2="262.60" y2="495.80" stroke="#2e2e2e" stroke-width="0.85" />
<line x1="254.60" y1="452.60" x2="263.20" y2="470.00" stroke="#2e2e2e" stroke-width="0.85" />
<line x1="336.20" y1="447.20" x2="323.20" y2="470.40" stroke="#2e2e2e" stroke-width="0.85" />
<circle cx="279.20" cy="348.70" r="1.15" fill="#1a1a1a"/>
<circle cx="316.90" cy="318.10" r="1.15" fill="#1a1a1a"/>
<circle cx="206.60" cy="370.40" r="1.15" fill="#1a1a1a"/>
<circle cx="206.00" cy="391.40" r="1.15" fill="#1a1a1a"/>
<circle cx="179.20" cy="415.20" r="1.15" fill="#1a1a1a"/>
<circle cx="209.00" cy="413.80" r="1.15" fill="#1a1a1a"/>
</g>
<g id="callouts">
<text x="161.15" y="293.90" transform="rotate(-0.35 161.6 293.6)" textLength="13.20" lengthAdjust="spacingAndGlyphs" font-family="'Liberation Sans', sans-serif" font-size="10.2" fill="#1c1c1c" class="lab" xml:space="preserve">20</text>
<text x="186.55" y="293.90" transform="rotate(-0.35 187.0 293.6)" textLength="11.00" lengthAdjust="spacingAndGlyphs" font-family="'Liberation Sans', sans-serif" font-size="10.2" fill="#1c1c1c" class="lab" xml:space="preserve">19</text>
<text x="211.05" y="293.90" transform="rotate(-0.35 211.5 293.6)" textLength="10.00" lengthAdjust="spacingAndGlyphs" font-family="'Liberation Sans', sans-serif" font-size="10.2" fill="#1c1c1c" class="lab" xml:space="preserve">11</text>
<text x="237.25" y="293.90" transform="rotate(-0.35 237.7 293.6)" textLength="10.60" lengthAdjust="spacingAndGlyphs" font-family="'Liberation Sans', sans-serif" font-size="10.2" fill="#1c1c1c" class="lab" xml:space="preserve">12</text>
<text x="261.45" y="293.90" transform="rotate(-0.35 261.9 293.6)" textLength="6.90" lengthAdjust="spacingAndGlyphs" font-family="'Liberation Sans', sans-serif" font-size="10.2" fill="#1c1c1c" class="lab" xml:space="preserve">3</text>
<text x="296.05" y="293.90" transform="rotate(-0.35 296.5 293.6)" textLength="23.60" lengthAdjust="spacingAndGlyphs" font-family="'Liberation Sans', sans-serif" font-size="10.2" fill="#1c1c1c" class="lab" xml:space="preserve">6, 18</text>
<text x="367.95" y="293.30" transform="rotate(-0.35 368.4 293.0)" textLength="13.00" lengthAdjust="spacingAndGlyphs" font-family="'Liberation Sans', sans-serif" font-size="10.2" fill="#1c1c1c" class="lab" xml:space="preserve">22</text>
<text x="404.55" y="293.30" transform="rotate(-0.35 405.0 293.0)" textLength="10.30" lengthAdjust="spacingAndGlyphs" font-family="'Liberation Sans', sans-serif" font-size="10.2" fill="#1c1c1c" class="lab" xml:space="preserve">16</text>
<text x="474.85" y="293.30" transform="rotate(-0.35 475.3 293.0)" textLength="10.60" lengthAdjust="spacingAndGlyphs" font-family="'Liberation Sans', sans-serif" font-size="10.2" fill="#1c1c1c" class="lab" xml:space="preserve">17</text>
<text x="140.45" y="370.00" transform="rotate(-0.35 140.9 369.7)" textLength="6.60" lengthAdjust="spacingAndGlyphs" font-family="'Liberation Sans', sans-serif" font-size="10.2" fill="#1c1c1c" class="lab" xml:space="preserve">2</text>
<text x="141.15" y="395.70" transform="rotate(-0.35 141.6 395.4)" textLength="5.30" lengthAdjust="spacingAndGlyphs" font-family="'Liberation Sans', sans-serif" font-size="10.2" fill="#1c1c1c" class="lab" xml:space="preserve">1</text>
<text x="140.65" y="417.90" transform="rotate(-0.35 141.1 417.6)" textLength="6.40" lengthAdjust="spacingAndGlyphs" font-family="'Liberation Sans', sans-serif" font-size="10.2" fill="#1c1c1c" class="lab" xml:space="preserve">7</text>
<text x="141.15" y="440.50" transform="rotate(-0.35 141.6 440.2)" textLength="6.40" lengthAdjust="spacingAndGlyphs" font-family="'Liberation Sans', sans-serif" font-size="10.2" fill="#1c1c1c" class="lab" xml:space="preserve">5</text>
<text x="139.65" y="467.60" transform="rotate(-0.35 140.1 467.3)" textLength="25.00" lengthAdjust="spacingAndGlyphs" font-family="'Liberation Sans', sans-serif" font-size="10.2" fill="#1c1c1c" class="lab" xml:space="preserve">14.15</text>
<text x="154.75" y="485.30" transform="rotate(-0.35 155.2 485.0)" textLength="9.90" lengthAdjust="spacingAndGlyphs" font-family="'Liberation Sans', sans-serif" font-size="10.2" fill="#1c1c1c" class="lab" xml:space="preserve">21</text>
<text x="156.25" y="506.70" transform="rotate(-0.35 156.7 506.4)" textLength="9.90" lengthAdjust="spacingAndGlyphs" font-family="'Liberation Sans', sans-serif" font-size="10.2" fill="#1c1c1c" class="lab" xml:space="preserve">13</text>
<text x="263.55" y="479.90" transform="rotate(-0.35 264.0 479.6)" textLength="6.60" lengthAdjust="spacingAndGlyphs" font-family="'Liberation Sans', sans-serif" font-size="10.2" fill="#1c1c1c" class="lab" xml:space="preserve">8</text>
<text x="264.15" y="500.30" transform="rotate(-0.35 264.6 500.0)" textLength="6.60" lengthAdjust="spacingAndGlyphs" font-family="'Liberation Sans', sans-serif" font-size="10.2" fill="#1c1c1c" class="lab" xml:space="preserve">4</text>
<text x="315.75" y="478.90" transform="rotate(-0.35 316.2 478.6)" textLength="22.00" lengthAdjust="spacingAndGlyphs" font-family="'Liberation Sans', sans-serif" font-size="10.2" fill="#1c1c1c" class="lab" xml:space="preserve">9.10</text>
</g>
<line x1="622.40" y1="68.80" x2="1127.20" y2="68.80" stroke="#3c3c3c" stroke-width="1.1" />
<line x1="622.40" y1="138.70" x2="1127.20" y2="138.70" stroke="#3c3c3c" stroke-width="1.1" />
<line x1="622.40" y1="483.00" x2="1127.20" y2="483.00" stroke="#3c3c3c" stroke-width="1.1" />
<line x1="622.90" y1="68.80" x2="622.90" y2="483.00" stroke="#3c3c3c" stroke-width="1.1" />
<line x1="654.40" y1="68.80" x2="654.40" y2="483.00" stroke="#3c3c3c" stroke-width="1.1" />
<line x1="733.30" y1="68.80" x2="733.30" y2="483.00" stroke="#3c3c3c" stroke-width="1.1" />
<line x1="961.00" y1="68.80" x2="961.00" y2="483.00" stroke="#3c3c3c" stroke-width="1.1" />
<line x1="990.70" y1="68.80" x2="990.70" y2="483.00" stroke="#3c3c3c" stroke-width="1.1" />
<line x1="1126.70" y1="68.80" x2="1126.70" y2="483.00" stroke="#3c3c3c" stroke-width="1.1" />
<line x1="1036.30" y1="115.60" x2="1036.30" y2="483.00" stroke="#3c3c3c" stroke-width="1.1" />
<line x1="1081.60" y1="115.60" x2="1081.60" y2="483.00" stroke="#3c3c3c" stroke-width="1.1" />
<line x1="990.70" y1="92.60" x2="1126.70" y2="92.60" stroke="#3c3c3c" stroke-width="1.1" />
<line x1="990.70" y1="115.60" x2="1126.70" y2="115.60" stroke="#3c3c3c" stroke-width="1.1" />
<text font-family="'Liberation Mono', monospace" font-size="12" font-weight="bold" text-anchor="middle" fill="#161616" transform="translate(638.90 107.20) scale(1.03 0.76)" xml:space="preserve">REF.</text>
<text font-family="'Liberation Mono', monospace" font-size="12" font-weight="bold" text-anchor="middle" fill="#161616" transform="translate(642.00 119.00) scale(1.03 0.76)" xml:space="preserve">NO.</text>
<text font-family="'Liberation Mono', monospace" font-size="12" font-weight="bold" text-anchor="middle" fill="#161616" transform="translate(695.80 107.20) scale(1.03 0.76)" xml:space="preserve">PART NO.</text>
<text font-family="'Liberation Mono', monospace" font-size="12" font-weight="bold" text-anchor="middle" fill="#161616" transform="translate(846.80 94.80) scale(1.03 0.76)" xml:space="preserve">NAME OF PART</text>
<text font-family="'Liberation Mono', monospace" font-size="12" fill="#161616" transform="translate(749.50 119.80) scale(1.005 0.82)" xml:space="preserve">Parts indented under an item</text>
<text font-family="'Liberation Mono', monospace" font-size="12" fill="#161616" transform="translate(749.50 134.30) scale(1.005 0.82)" xml:space="preserve">are included with that item.</text>
<text font-family="'Liberation Mono', monospace" font-size="12" font-weight="bold" text-anchor="middle" fill="#161616" transform="translate(976.00 109.10) scale(1.03 0.76)" xml:space="preserve">QTY</text>
<text font-family="'Liberation Serif', serif" font-size="12.2" font-weight="bold" font-style="italic" text-anchor="middle" fill="#161616" x="1056.70" y="84.30" xml:space="preserve">Recommended Spares</text>
<text font-family="'Liberation Mono', monospace" font-size="12" font-weight="bold" text-anchor="middle" fill="#161616" transform="translate(1057.80 108.90) scale(1.03 0.76)" xml:space="preserve">CLASS</text>
<text font-family="'Liberation Mono', monospace" font-size="12" font-weight="bold" text-anchor="middle" fill="#161616" transform="translate(1014.50 131.20) scale(1.03 0.76)" xml:space="preserve">Min.</text>
<text font-family="'Liberation Mono', monospace" font-size="12" font-weight="bold" text-anchor="middle" fill="#161616" transform="translate(1059.90 131.20) scale(1.03 0.76)" xml:space="preserve">Av.</text>
<text font-family="'Liberation Mono', monospace" font-size="12" font-weight="bold" text-anchor="middle" fill="#161616" transform="translate(1104.70 131.20) scale(1.03 0.76)" xml:space="preserve">Max.</text>
<text font-family="'Liberation Sans', sans-serif" font-size="13.2" font-weight="bold" text-anchor="middle" fill="#161616" transform="translate(694.90 156.40) scale(1.085 1.0)" xml:space="preserve">51109296</text>
<text font-family="'Liberation Serif', serif" font-size="12.1" font-weight="bold" text-anchor="middle" fill="#161616" x="847.00" y="156.30" xml:space="preserve">HYD. MOTOR</text>
<text font-family="'Liberation Serif', serif" font-size="12.1" text-anchor="middle" fill="#161616" x="847.00" y="169.40" xml:space="preserve">(CONSISTS OF FOLLOWING)</text>
<text font-family="'Liberation Serif', serif" font-size="12.6" font-weight="bold" text-anchor="middle" fill="#161616" x="980.30" y="156.30" xml:space="preserve">1</text>
<g class="row">
<text font-family="'Liberation Sans', sans-serif" font-size="11.0" text-anchor="end" fill="#161616" transform="translate(646.40 188.85) scale(1.08 1.0)" xml:space="preserve">1</text>
<text font-family="'Liberation Sans', sans-serif" font-size="10.6" text-anchor="middle" fill="#161616" x="684.10" y="188.55" style="stroke-width:.4px" xml:space="preserve">+</text>
<text font-family="'Liberation Sans', sans-serif" font-size="10.6" text-anchor="middle" fill="#161616" x="705.00" y="188.55" style="stroke-width:.4px" xml:space="preserve">+</text>
<text x="739.2" y="188.85" font-family="'Liberation Serif', serif" font-size="12.2" fill="#161616" xml:space="preserve">BODY</text>
<text x="954.4" y="188.35" text-anchor="end" font-family="'Liberation Serif', serif" font-size="12" fill="#2a2a2a" class="ld">............................................................</text>
<text font-family="'Liberation Serif', serif" font-size="12.2" text-anchor="middle" fill="#161616" x="978.40" y="188.85" xml:space="preserve">1</text>
</g>
<g class="row">
<text font-family="'Liberation Sans', sans-serif" font-size="11.0" text-anchor="end" fill="#161616" transform="translate(646.40 201.69) scale(1.08 1.0)" xml:space="preserve">2</text>
<text font-family="'Liberation Sans', sans-serif" font-size="10.6" text-anchor="middle" fill="#161616" x="684.10" y="201.39" style="stroke-width:.4px" xml:space="preserve">+</text>
<text font-family="'Liberation Sans', sans-serif" font-size="10.6" text-anchor="middle" fill="#161616" x="705.00" y="201.39" style="stroke-width:.4px" xml:space="preserve">+</text>
<text x="739.2" y="201.69" font-family="'Liberation Serif', serif" font-size="12.2" fill="#161616" xml:space="preserve">BEARING (FR)</text>
<text x="954.4" y="201.19" text-anchor="end" font-family="'Liberation Serif', serif" font-size="12" fill="#2a2a2a" class="ld">............................................</text>
<text font-family="'Liberation Serif', serif" font-size="12.2" text-anchor="middle" fill="#161616" x="978.40" y="201.69" xml:space="preserve">2</text>
</g>
<g class="row">
<text font-family="'Liberation Sans', sans-serif" font-size="11.0" text-anchor="end" fill="#161616" transform="translate(646.40 214.53) scale(1.08 1.0)" xml:space="preserve">3</text>
<text font-family="'Liberation Sans', sans-serif" font-size="10.6" text-anchor="middle" fill="#161616" x="684.10" y="214.23" style="stroke-width:.4px" xml:space="preserve">+</text>
<text font-family="'Liberation Sans', sans-serif" font-size="10.6" text-anchor="middle" fill="#161616" x="705.00" y="214.23" style="stroke-width:.4px" xml:space="preserve">+</text>
<text x="739.2" y="214.53" font-family="'Liberation Serif', serif" font-size="12.2" fill="#161616" xml:space="preserve">SHAFT, DRIVEN</text>
<text x="954.4" y="214.03" text-anchor="end" font-family="'Liberation Serif', serif" font-size="12" fill="#2a2a2a" class="ld">.........................................</text>
<text font-family="'Liberation Serif', serif" font-size="12.2" text-anchor="middle" fill="#161616" x="978.40" y="214.53" xml:space="preserve">1</text>
</g>
<g class="row">
<text font-family="'Liberation Sans', sans-serif" font-size="11.0" text-anchor="end" fill="#161616" transform="translate(646.40 227.37) scale(1.08 1.0)" xml:space="preserve">4</text>
<text font-family="'Liberation Sans', sans-serif" font-size="10.6" text-anchor="middle" fill="#161616" x="684.10" y="227.07" style="stroke-width:.4px" xml:space="preserve">+</text>
<text font-family="'Liberation Sans', sans-serif" font-size="10.6" text-anchor="middle" fill="#161616" x="705.00" y="227.07" style="stroke-width:.4px" xml:space="preserve">+</text>
<text x="739.2" y="227.37" font-family="'Liberation Serif', serif" font-size="12.2" fill="#161616" xml:space="preserve">SHAFT, DRIVEN</text>
<text x="954.4" y="226.87" text-anchor="end" font-family="'Liberation Serif', serif" font-size="12" fill="#2a2a2a" class="ld">.........................................</text>
<text font-family="'Liberation Serif', serif" font-size="12.2" text-anchor="middle" fill="#161616" x="978.40" y="227.37" xml:space="preserve">1</text>
</g>
<g class="row">
<text font-family="'Liberation Sans', sans-serif" font-size="11.0" text-anchor="end" fill="#161616" transform="translate(646.40 240.21) scale(1.08 1.0)" xml:space="preserve">5</text>
<text font-family="'Liberation Sans', sans-serif" font-size="10.6" text-anchor="middle" fill="#161616" x="684.10" y="239.91" style="stroke-width:.4px" xml:space="preserve">+</text>
<text font-family="'Liberation Sans', sans-serif" font-size="10.6" text-anchor="middle" fill="#161616" x="705.00" y="239.91" style="stroke-width:.4px" xml:space="preserve">+</text>
<text x="739.2" y="240.21" font-family="'Liberation Serif', serif" font-size="12.2" fill="#161616" xml:space="preserve">COVER, FRONT</text>
<text x="954.4" y="239.71" text-anchor="end" font-family="'Liberation Serif', serif" font-size="12" fill="#2a2a2a" class="ld">..........................................</text>
<text font-family="'Liberation Serif', serif" font-size="12.2" text-anchor="middle" fill="#161616" x="978.40" y="240.21" xml:space="preserve">1</text>
</g>
<g class="row">
<text font-family="'Liberation Sans', sans-serif" font-size="11.0" text-anchor="end" fill="#161616" transform="translate(646.40 253.05) scale(1.08 1.0)" xml:space="preserve">6</text>
<text font-family="'Liberation Sans', sans-serif" font-size="10.6" text-anchor="middle" fill="#161616" x="684.10" y="252.75" style="stroke-width:.4px" xml:space="preserve">+</text>
<text font-family="'Liberation Sans', sans-serif" font-size="10.6" text-anchor="middle" fill="#161616" x="705.00" y="252.75" style="stroke-width:.4px" xml:space="preserve">+</text>
<text x="739.2" y="253.05" font-family="'Liberation Serif', serif" font-size="12.2" fill="#161616" xml:space="preserve">COVER, REAR</text>
<text x="954.4" y="252.55" text-anchor="end" font-family="'Liberation Serif', serif" font-size="12" fill="#2a2a2a" class="ld">.............................................</text>
<text font-family="'Liberation Serif', serif" font-size="12.2" text-anchor="middle" fill="#161616" x="978.40" y="253.05" xml:space="preserve">1</text>
</g>
<g class="row">
<text font-family="'Liberation Sans', sans-serif" font-size="11.0" text-anchor="end" fill="#161616" transform="translate(646.40 265.90) scale(1.08 1.0)" xml:space="preserve">7</text>
<text font-family="'Liberation Sans', sans-serif" font-size="10.6" text-anchor="middle" fill="#161616" x="684.10" y="265.60" style="stroke-width:.4px" xml:space="preserve">+</text>
<text font-family="'Liberation Sans', sans-serif" font-size="10.6" text-anchor="middle" fill="#161616" x="705.00" y="265.60" style="stroke-width:.4px" xml:space="preserve">+</text>
<text x="739.2" y="265.90" font-family="'Liberation Serif', serif" font-size="12.2" fill="#161616" xml:space="preserve">PIN</text>
<text x="954.4" y="265.40" text-anchor="end" font-family="'Liberation Serif', serif" font-size="12" fill="#2a2a2a" class="ld">.................................................................</text>
<text font-family="'Liberation Serif', serif" font-size="12.2" text-anchor="middle" fill="#161616" x="978.40" y="265.90" xml:space="preserve">4</text>
</g>
<g class="row">
<text font-family="'Liberation Sans', sans-serif" font-size="11.0" text-anchor="end" fill="#161616" transform="translate(646.40 278.74) scale(1.08 1.0)" xml:space="preserve">8</text>
<text font-family="'Liberation Sans', sans-serif" font-size="10.6" text-anchor="middle" fill="#161616" x="684.10" y="278.44" style="stroke-width:.4px" xml:space="preserve">+</text>
<text font-family="'Liberation Sans', sans-serif" font-size="10.6" text-anchor="middle" fill="#161616" x="705.00" y="278.44" style="stroke-width:.4px" xml:space="preserve">+</text>
<text x="739.2" y="278.74" font-family="'Liberation Serif', serif" font-size="12.2" fill="#161616" xml:space="preserve">RING, SNAP</text>
<text x="954.4" y="278.24" text-anchor="end" font-family="'Liberation Serif', serif" font-size="12" fill="#2a2a2a" class="ld">.................................................</text>
<text font-family="'Liberation Serif', serif" font-size="12.2" text-anchor="middle" fill="#161616" x="978.40" y="278.74" xml:space="preserve">1</text>
</g>
<g class="row">
<text font-family="'Liberation Sans', sans-serif" font-size="11.0" text-anchor="end" fill="#161616" transform="translate(646.40 291.58) scale(1.08 1.0)" xml:space="preserve">9</text>
<text font-family="'Liberation Sans', sans-serif" font-size="10.6" text-anchor="middle" fill="#161616" x="684.10" y="291.28" style="stroke-width:.4px" xml:space="preserve">+</text>
<text font-family="'Liberation Sans', sans-serif" font-size="10.6" text-anchor="middle" fill="#161616" x="705.00" y="291.28" style="stroke-width:.4px" xml:space="preserve">+</text>
<text x="739.2" y="291.58" font-family="'Liberation Serif', serif" font-size="12.2" fill="#161616" xml:space="preserve">CAPSCREW</text>
<text x="954.4" y="291.08" text-anchor="end" font-family="'Liberation Serif', serif" font-size="12" fill="#2a2a2a" class="ld">.................................................</text>
<text font-family="'Liberation Serif', serif" font-size="12.2" text-anchor="middle" fill="#161616" x="978.40" y="291.58" xml:space="preserve">16</text>
</g>
<g class="row">
<text font-family="'Liberation Sans', sans-serif" font-size="11.0" text-anchor="end" fill="#161616" transform="translate(646.40 304.42) scale(1.08 1.0)" xml:space="preserve">10</text>
<text font-family="'Liberation Sans', sans-serif" font-size="10.6" text-anchor="middle" fill="#161616" x="684.10" y="304.12" style="stroke-width:.4px" xml:space="preserve">+</text>
<text font-family="'Liberation Sans', sans-serif" font-size="10.6" text-anchor="middle" fill="#161616" x="705.00" y="304.12" style="stroke-width:.4px" xml:space="preserve">+</text>
<text x="739.2" y="304.42" font-family="'Liberation Serif', serif" font-size="12.2" fill="#161616" xml:space="preserve">WASHER</text>
<text x="954.4" y="303.92" text-anchor="end" font-family="'Liberation Serif', serif" font-size="12" fill="#2a2a2a" class="ld">......................................................</text>
<text font-family="'Liberation Serif', serif" font-size="12.2" text-anchor="middle" fill="#161616" x="978.40" y="304.42" xml:space="preserve">16</text>
</g>
<g class="row">
<text font-family="'Liberation Sans', sans-serif" font-size="11.0" text-anchor="end" fill="#161616" transform="translate(646.40 317.26) scale(1.08 1.0)" xml:space="preserve">11</text>
<text font-family="'Liberation Sans', sans-serif" font-size="10.6" text-anchor="middle" fill="#161616" x="684.10" y="316.96" style="stroke-width:.4px" xml:space="preserve">+</text>
<text font-family="'Liberation Sans', sans-serif" font-size="10.6" text-anchor="middle" fill="#161616" x="705.00" y="316.96" style="stroke-width:.4px" xml:space="preserve">+</text>
<text x="739.2" y="317.26" font-family="'Liberation Serif', serif" font-size="12.2" fill="#161616" xml:space="preserve">NAME PLATE</text>
<text x="954.4" y="316.76" text-anchor="end" font-family="'Liberation Serif', serif" font-size="12" fill="#2a2a2a" class="ld">..............................................</text>
<text font-family="'Liberation Serif', serif" font-size="12.2" text-anchor="middle" fill="#161616" x="978.40" y="317.26" xml:space="preserve">1</text>
</g>
<g class="row">
<text font-family="'Liberation Sans', sans-serif" font-size="11.0" text-anchor="end" fill="#161616" transform="translate(646.40 330.10) scale(1.08 1.0)" xml:space="preserve">12</text>
<text font-family="'Liberation Sans', sans-serif" font-size="10.6" text-anchor="middle" fill="#161616" x="684.10" y="329.80" style="stroke-width:.4px" xml:space="preserve">+</text>
<text font-family="'Liberation Sans', sans-serif" font-size="10.6" text-anchor="middle" fill="#161616" x="705.00" y="329.80" style="stroke-width:.4px" xml:space="preserve">+</text>
<text x="739.2" y="330.10" font-family="'Liberation Serif', serif" font-size="12.2" fill="#161616" xml:space="preserve">RIVET</text>
<text x="954.4" y="329.60" text-anchor="end" font-family="'Liberation Serif', serif" font-size="12" fill="#2a2a2a" class="ld">...........................................................</text>
<text font-family="'Liberation Serif', serif" font-size="12.2" text-anchor="middle" fill="#161616" x="978.40" y="330.10" xml:space="preserve">2</text>
</g>
<g class="row">
<text font-family="'Liberation Sans', sans-serif" font-size="11.0" text-anchor="end" fill="#161616" transform="translate(646.40 342.94) scale(1.08 1.0)" xml:space="preserve">13</text>
<text font-family="'Liberation Sans', sans-serif" font-size="10.6" text-anchor="middle" fill="#161616" x="684.10" y="342.64" style="stroke-width:.4px" xml:space="preserve">+</text>
<text font-family="'Liberation Sans', sans-serif" font-size="10.6" text-anchor="middle" fill="#161616" x="705.00" y="342.64" style="stroke-width:.4px" xml:space="preserve">+</text>
<text x="739.2" y="342.94" font-family="'Liberation Serif', serif" font-size="12.2" fill="#161616" xml:space="preserve">KEY</text>
<text x="954.4" y="342.44" text-anchor="end" font-family="'Liberation Serif', serif" font-size="12" fill="#2a2a2a" class="ld">...............................................................</text>
<text font-family="'Liberation Serif', serif" font-size="12.2" text-anchor="middle" fill="#161616" x="978.40" y="342.94" xml:space="preserve">1</text>
</g>
<g class="row">
<text font-family="'Liberation Sans', sans-serif" font-size="11.0" text-anchor="end" fill="#161616" transform="translate(646.40 355.78) scale(1.08 1.0)" xml:space="preserve">14</text>
<text font-family="'Liberation Sans', sans-serif" font-size="10.6" text-anchor="middle" fill="#161616" x="684.10" y="355.48" style="stroke-width:.4px" xml:space="preserve">+</text>
<text font-family="'Liberation Sans', sans-serif" font-size="10.6" text-anchor="middle" fill="#161616" x="705.00" y="355.48" style="stroke-width:.4px" xml:space="preserve">+</text>
<text x="739.2" y="355.78" font-family="'Liberation Serif', serif" font-size="12.2" fill="#161616" xml:space="preserve">ELASTIC</text>
<text x="954.4" y="355.28" text-anchor="end" font-family="'Liberation Serif', serif" font-size="12" fill="#2a2a2a" class="ld">......................................................</text>
<text font-family="'Liberation Serif', serif" font-size="12.2" text-anchor="middle" fill="#161616" x="978.40" y="355.78" xml:space="preserve">8</text>
</g>
<g class="row">
<text font-family="'Liberation Sans', sans-serif" font-size="11.0" text-anchor="end" fill="#161616" transform="translate(646.40 368.62) scale(1.08 1.0)" xml:space="preserve">15</text>
<text font-family="'Liberation Sans', sans-serif" font-size="10.6" text-anchor="middle" fill="#161616" x="684.10" y="368.32" style="stroke-width:.4px" xml:space="preserve">+</text>
<text font-family="'Liberation Sans', sans-serif" font-size="10.6" text-anchor="middle" fill="#161616" x="705.00" y="368.32" style="stroke-width:.4px" xml:space="preserve">+</text>
<text x="739.2" y="368.62" font-family="'Liberation Serif', serif" font-size="12.2" fill="#161616" xml:space="preserve">PIN</text>
<text x="954.4" y="368.12" text-anchor="end" font-family="'Liberation Serif', serif" font-size="12" fill="#2a2a2a" class="ld">.................................................................</text>
<text font-family="'Liberation Serif', serif" font-size="12.2" text-anchor="middle" fill="#161616" x="978.40" y="368.62" xml:space="preserve">8</text>
</g>
<g class="row">
<text font-family="'Liberation Sans', sans-serif" font-size="11.0" text-anchor="end" fill="#161616" transform="translate(646.40 381.46) scale(1.08 1.0)" xml:space="preserve">16</text>
<text font-family="'Liberation Sans', sans-serif" font-size="10.6" text-anchor="middle" fill="#161616" x="684.10" y="381.16" style="stroke-width:.4px" xml:space="preserve">+</text>
<text font-family="'Liberation Sans', sans-serif" font-size="10.6" text-anchor="middle" fill="#161616" x="705.00" y="381.16" style="stroke-width:.4px" xml:space="preserve">+</text>
<text x="739.2" y="381.46" font-family="'Liberation Serif', serif" font-size="12.2" fill="#161616" xml:space="preserve">FLANGE</text>
<text x="954.4" y="380.96" text-anchor="end" font-family="'Liberation Serif', serif" font-size="12" fill="#2a2a2a" class="ld">.......................................................</text>
<text font-family="'Liberation Serif', serif" font-size="12.2" text-anchor="middle" fill="#161616" x="978.40" y="381.46" xml:space="preserve">2</text>
</g>
<g class="row">
<text font-family="'Liberation Sans', sans-serif" font-size="11.0" text-anchor="end" fill="#161616" transform="translate(646.40 394.30) scale(1.08 1.0)" xml:space="preserve">17</text>
<text font-family="'Liberation Sans', sans-serif" font-size="10.6" text-anchor="middle" fill="#161616" x="684.10" y="394.00" style="stroke-width:.4px" xml:space="preserve">+</text>
<text font-family="'Liberation Sans', sans-serif" font-size="10.6" text-anchor="middle" fill="#161616" x="705.00" y="394.00" style="stroke-width:.4px" xml:space="preserve">+</text>
<text x="739.2" y="394.30" font-family="'Liberation Serif', serif" font-size="12.2" fill="#161616" xml:space="preserve">CAPSCREW</text>
<text x="954.4" y="393.80" text-anchor="end" font-family="'Liberation Serif', serif" font-size="12" fill="#2a2a2a" class="ld">.................................................</text>
<text font-family="'Liberation Serif', serif" font-size="12.2" text-anchor="middle" fill="#161616" x="978.40" y="394.30" xml:space="preserve">8</text>
</g>
<g class="row">
<text font-family="'Liberation Sans', sans-serif" font-size="11.2" text-anchor="middle" fill="#161616" transform="translate(694.50 407.15) scale(1.1 1.0)" xml:space="preserve">51196293</text>
<text x="739.2" y="407.15" font-family="'Liberation Serif', serif" font-size="12.2" fill="#161616" xml:space="preserve">KIT, SEAL</text>
<text x="954.4" y="406.65" text-anchor="end" font-family="'Liberation Serif', serif" font-size="12" fill="#2a2a2a" class="ld">.....................................................</text>
<text font-family="'Liberation Serif', serif" font-size="12.2" text-anchor="middle" fill="#161616" x="978.40" y="407.15" xml:space="preserve">1</text>
</g>
<g class="row">
<text font-family="'Liberation Sans', sans-serif" font-size="11.0" text-anchor="end" fill="#161616" transform="translate(646.40 419.99) scale(1.08 1.0)" xml:space="preserve">18</text>
<text font-family="'Liberation Sans', sans-serif" font-size="10.6" text-anchor="middle" fill="#161616" x="684.10" y="419.69" style="stroke-width:.4px" xml:space="preserve">+</text>
<text font-family="'Liberation Sans', sans-serif" font-size="10.6" text-anchor="middle" fill="#161616" x="705.00" y="419.69" style="stroke-width:.4px" xml:space="preserve">+</text>
<text x="739.2" y="419.99" font-family="'Liberation Serif', serif" font-size="12.2" fill="#161616" xml:space="preserve"><tspan dx="1.6">·</tspan><tspan dx="0.6"> O-RING</tspan></text>
<text x="954.4" y="419.49" text-anchor="end" font-family="'Liberation Serif', serif" font-size="12" fill="#2a2a2a" class="ld">......................................................</text>
<text font-family="'Liberation Serif', serif" font-size="12.2" text-anchor="middle" fill="#161616" x="978.40" y="419.99" xml:space="preserve">4</text>
</g>
<g class="row">
<text font-family="'Liberation Sans', sans-serif" font-size="11.0" text-anchor="end" fill="#161616" transform="translate(646.40 432.83) scale(1.08 1.0)" xml:space="preserve">19</text>
<text font-family="'Liberation Sans', sans-serif" font-size="10.6" text-anchor="middle" fill="#161616" x="684.10" y="432.53" style="stroke-width:.4px" xml:space="preserve">+</text>
<text font-family="'Liberation Sans', sans-serif" font-size="10.6" text-anchor="middle" fill="#161616" x="705.00" y="432.53" style="stroke-width:.4px" xml:space="preserve">+</text>
<text x="739.2" y="432.83" font-family="'Liberation Serif', serif" font-size="12.2" fill="#161616" xml:space="preserve"><tspan dx="1.6">·</tspan><tspan dx="0.6"> O-RING</tspan></text>
<text x="954.4" y="432.33" text-anchor="end" font-family="'Liberation Serif', serif" font-size="12" fill="#2a2a2a" class="ld">......................................................</text>
<text font-family="'Liberation Serif', serif" font-size="12.2" text-anchor="middle" fill="#161616" x="978.40" y="432.83" xml:space="preserve">2</text>
</g>
<g class="row">
<text font-family="'Liberation Sans', sans-serif" font-size="11.0" text-anchor="end" fill="#161616" transform="translate(646.40 445.67) scale(1.08 1.0)" xml:space="preserve">20</text>
<text font-family="'Liberation Sans', sans-serif" font-size="10.6" text-anchor="middle" fill="#161616" x="684.10" y="445.37" style="stroke-width:.4px" xml:space="preserve">+</text>
<text font-family="'Liberation Sans', sans-serif" font-size="10.6" text-anchor="middle" fill="#161616" x="705.00" y="445.37" style="stroke-width:.4px" xml:space="preserve">+</text>
<text x="739.2" y="445.67" font-family="'Liberation Serif', serif" font-size="12.2" fill="#161616" xml:space="preserve"><tspan dx="1.6">·</tspan><tspan dx="0.6"> O-RING</tspan></text>
<text x="954.4" y="445.17" text-anchor="end" font-family="'Liberation Serif', serif" font-size="12" fill="#2a2a2a" class="ld">......................................................</text>
<text font-family="'Liberation Serif', serif" font-size="12.2" text-anchor="middle" fill="#161616" x="978.40" y="445.67" xml:space="preserve">2</text>
</g>
<g class="row">
<text font-family="'Liberation Sans', sans-serif" font-size="11.0" text-anchor="end" fill="#161616" transform="translate(646.40 458.51) scale(1.08 1.0)" xml:space="preserve">21</text>
<text font-family="'Liberation Sans', sans-serif" font-size="10.6" text-anchor="middle" fill="#161616" x="684.10" y="458.21" style="stroke-width:.4px" xml:space="preserve">+</text>
<text font-family="'Liberation Sans', sans-serif" font-size="10.6" text-anchor="middle" fill="#161616" x="705.00" y="458.21" style="stroke-width:.4px" xml:space="preserve">+</text>
<text x="739.2" y="458.51" font-family="'Liberation Serif', serif" font-size="12.2" fill="#161616" xml:space="preserve"><tspan dx="1.6">·</tspan><tspan dx="0.6"> OIL SEAL</tspan></text>
<text x="954.4" y="458.01" text-anchor="end" font-family="'Liberation Serif', serif" font-size="12" fill="#2a2a2a" class="ld">..................................................</text>
<text font-family="'Liberation Serif', serif" font-size="12.2" text-anchor="middle" fill="#161616" x="978.40" y="458.51" xml:space="preserve">1</text>
</g>
<g class="row">
<text font-family="'Liberation Sans', sans-serif" font-size="11.0" text-anchor="end" fill="#161616" transform="translate(646.40 471.35) scale(1.08 1.0)" xml:space="preserve">22</text>
<text font-family="'Liberation Sans', sans-serif" font-size="10.6" text-anchor="middle" fill="#161616" x="684.10" y="471.05" style="stroke-width:.4px" xml:space="preserve">+</text>
<text font-family="'Liberation Sans', sans-serif" font-size="10.6" text-anchor="middle" fill="#161616" x="705.00" y="471.05" style="stroke-width:.4px" xml:space="preserve">+</text>
<text x="739.2" y="471.35" font-family="'Liberation Serif', serif" font-size="12.2" fill="#161616" xml:space="preserve"><tspan dx="1.6">·</tspan><tspan dx="0.6"> O-RING</tspan></text>
<text x="954.4" y="470.85" text-anchor="end" font-family="'Liberation Serif', serif" font-size="12" fill="#2a2a2a" class="ld">......................................................</text>
<text font-family="'Liberation Serif', serif" font-size="12.2" text-anchor="middle" fill="#161616" x="978.40" y="471.35" xml:space="preserve">1</text>
</g>
<text font-family="'Liberation Serif', serif" font-size="10" letter-spacing="1.25" fill="#161616" x="715.10" y="760.00" xml:space="preserve">+  + Note; These parts are not sold separatery.</text>
<text font-family="'Liberation Serif', serif" font-size="10" letter-spacing="1.3" fill="#161616" x="812.20" y="795.20" xml:space="preserve">PS-5632.50</text>
<text font-family="'Liberation Serif', serif" font-size="10" letter-spacing="1.3" fill="#161616" x="878.50" y="795.20" xml:space="preserve">Sheet D0028</text>
<text font-family="'Liberation Serif', serif" font-size="10" letter-spacing="1.3" fill="#161616" x="985.40" y="795.20" xml:space="preserve">Page 2</text>
<text font-family="'Liberation Serif', serif" font-size="8.4" fill="#161616" x="1084.00" y="797.60" xml:space="preserve">51109296</text>
</g>
<text font-family="'Liberation Sans', sans-serif" font-size="37.7" font-weight="bold" fill="#c8a21a" transform="translate(403.60 434.70) scale(0.956 1.0)" xml:space="preserve">machinecatalogic.com</text>
</svg>
</body>
</html>
